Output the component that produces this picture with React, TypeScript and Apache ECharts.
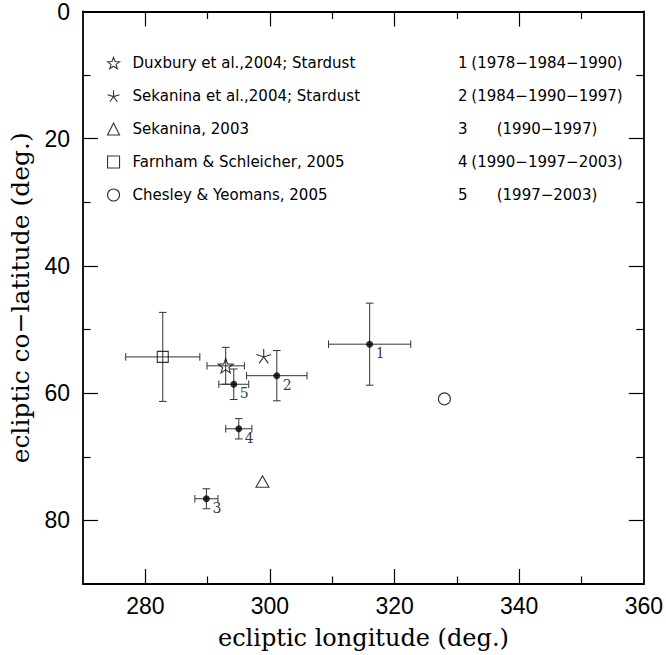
import React, { useEffect, useRef } from 'react';
import * as echarts from 'echarts';

// ---- axis ranges & ticks ----
const lonRange = [270, 360];
const latRange = [0, 90];
const lonLabels = [280, 300, 320, 340, 360];
const lonMajorTicks = [280, 300, 320, 340];
const lonMinorTicks = [290, 310, 330, 350];
const latLabels = [0, 20, 40, 60, 80];
const latMajorTicks = [20, 40, 60, 80];
const latMinorTicks = [10, 30, 50, 70];

// ---- numbered pole solutions ----
const solutionIds = ['1', '2', '3', '4', '5'];
const solutionSpans = ['(1978\u22121984\u22121990)', '(1984\u22121990\u22121997)', '(1990\u22121997)', '(1990\u22121997\u22122003)', '(1997\u22122003)'];
const solutionLon = [316.0, 301.1, 289.8, 295.0, 294.2];
const solutionLat = [52.3, 57.25, 76.6, 65.6, 58.6];
const solutionLonErr = [6.6, 4.85, 1.85, 2.1, 2.4];
const solutionLatErr = [6.45, 3.95, 1.57, 1.6, 2.4];

// ---- published determinations ----
const refNames = ['Duxbury et al.,2004; Stardust', 'Sekanina et al.,2004; Stardust', 'Sekanina, 2003', 'Farnham & Schleicher, 2005', 'Chesley & Yeomans, 2005'];
const refLon = [292.9, 299.0, 298.8, 282.8, 328.0];
const refLat = [55.7, 54.2, 73.9, 54.3, 60.9];
const refLonErr = [3.0, 0, 0, 5.95, 0];
const refLatErr = [2.9, 0, 0, 7.0, 0];

const STAR = 'path://M0,-10 L2.47,-3.4 L9.51,-3.09 L4,1.3 L5.88,8.09 L0,4.2 L-5.88,8.09 L-4,1.3 L-9.51,-3.09 L-2.47,-3.4 Z';
const ASTER = 'path://M0,-10 L0,0 M-9.51,-3.09 L0,0 L9.51,-3.09 M-5.88,8.09 L0,0 L5.88,8.09';
const refSymbols = [STAR, ASTER, 'triangle', 'rect', 'circle'];
const refSizes: any[] = [[15, 14.3], [15, 14.3], [13, 11.5], [11, 11], [12, 12]];

const TICK_FONT = 'Liberation Sans';
const TITLE_FONT = 'DejaVu Serif';
const LEGEND_FONT = 'DejaVu Sans';

function makeAxis(kind: 'x' | 'y', position: string, ticks: number[], len: number, main: boolean, extra: any = {}) {
  const range = kind === 'x' ? lonRange : latRange;
  return {
    type: 'value',
    position,
    min: range[0],
    max: range[1],
    inverse: kind === 'y',
    splitLine: { show: false },
    axisLine: { show: main, onZero: false, lineStyle: { color: '#000', width: 1.8 } },
    axisTick: { show: true, inside: true, length: len, customValues: ticks, lineStyle: { color: '#000', width: 1.2 } },
    axisLabel: { show: false },
    ...extra,
  };
}

export default function App() {
  const ref = useRef<HTMLDivElement>(null);
  useEffect(() => {
    const chart = echarts.init(ref.current!, null, { renderer: 'svg' });

    const errData: number[][] = [];
    solutionLon.forEach((x, i) => errData.push([x, solutionLat[i], solutionLonErr[i], solutionLatErr[i]]));
    refLon.forEach((x, i) => {
      if (refLonErr[i] > 0 || refLatErr[i] > 0) errData.push([x, refLat[i], refLonErr[i], refLatErr[i]]);
    });

    const tickLabel = { show: true, color: '#000', fontFamily: TICK_FONT, fontSize: 23 };
    const nameStyle = { color: '#000', fontFamily: TITLE_FONT, fontSize: 24 };

    const refSeries = refNames.map((name, i) => ({
      type: 'scatter',
      name,
      symbol: refSymbols[i],
      symbolSize: refSizes[i],
      data: [[refLon[i], refLat[i]]],
      itemStyle: { color: 'rgba(255,255,255,0)', borderColor: '#000', borderWidth: 1.1 },
      z: 5,
      silent: true,
    }));

    const rowTop = 63;
    const rowPitch = 33;

    const option: any = {
      animation: false,
      backgroundColor: '#fff',
      grid: { left: 82, top: 11, right: 22, bottom: 71 },
      xAxis: [
        makeAxis('x', 'bottom', lonMajorTicks, 15, true, {
          axisLabel: { ...tickLabel, customValues: lonLabels, margin: 10 },
          name: 'ecliptic longitude (deg.)',
          nameLocation: 'middle',
          nameGap: 42,
          nameTextStyle: nameStyle,
        }),
        makeAxis('x', 'bottom', lonMinorTicks, 7.5, false),
        makeAxis('x', 'top', lonMajorTicks, 15, true),
        makeAxis('x', 'top', lonMinorTicks, 7.5, false),
      ],
      yAxis: [
        makeAxis('y', 'left', latMajorTicks, 15, true, {
          axisLabel: { ...tickLabel, customValues: latLabels, margin: 13 },
          name: 'ecliptic co\u2212latitude (deg.)',
          nameLocation: 'middle',
          nameGap: 50,
          nameTextStyle: { ...nameStyle, fontSize: 25 },
        }),
        makeAxis('y', 'left', latMinorTicks, 7.5, false),
        makeAxis('y', 'right', latMajorTicks, 15, true),
        makeAxis('y', 'right', latMinorTicks, 7.5, false),
      ],
      legend: {
        orient: 'vertical',
        left: 107,
        top: rowTop - 10.5,
        padding: 0,
        itemWidth: 12,
        itemHeight: 12,
        itemGap: rowPitch - 21,
        selectedMode: false,
        textStyle: { color: '#000', fontFamily: LEGEND_FONT, fontSize: 15, lineHeight: 21, padding: [0, 0, 0, 8] },
        data: refNames.map((name, i) => ({
          name,
          icon: refSymbols[i],
          itemStyle: { color: 'rgba(255,255,255,0)', borderColor: '#000', borderWidth: 1.1 },
        })),
      },
      graphic: solutionIds.flatMap((id, i) => [
        {
          type: 'text',
          x: 458,
          y: rowTop + i * rowPitch,
          silent: true,
          style: { text: id, fill: '#000', fontFamily: LEGEND_FONT, fontSize: 15, textAlign: 'left', textVerticalAlign: 'middle' },
        },
        {
          type: 'text',
          x: 547,
          y: rowTop + i * rowPitch,
          silent: true,
          style: { text: solutionSpans[i], fill: '#000', fontFamily: LEGEND_FONT, fontSize: 15, textAlign: 'center', textVerticalAlign: 'middle' },
        },
      ]),
      series: [
        {
          type: 'custom',
          name: 'errors',
          silent: true,
          z: 2,
          data: errData,
          renderItem: (params: any, api: any) => {
            const x = api.value(0), y = api.value(1), ex = api.value(2), ey = api.value(3);
            const style = { stroke: '#333', lineWidth: 1 };
            const c = 3.8;
            const children: any[] = [];
            if (ex > 0) {
              const l = api.coord([x - ex, y]);
              const r = api.coord([x + ex, y]);
              children.push({ type: 'line', shape: { x1: l[0], y1: l[1], x2: r[0], y2: r[1] }, style });
              children.push({ type: 'line', shape: { x1: l[0], y1: l[1] - c, x2: l[0], y2: l[1] + c }, style });
              children.push({ type: 'line', shape: { x1: r[0], y1: r[1] - c, x2: r[0], y2: r[1] + c }, style });
            }
            if (ey > 0) {
              const t = api.coord([x, y - ey]);
              const b = api.coord([x, y + ey]);
              children.push({ type: 'line', shape: { x1: t[0], y1: t[1], x2: b[0], y2: b[1] }, style });
              children.push({ type: 'line', shape: { x1: t[0] - c, y1: t[1], x2: t[0] + c, y2: t[1] }, style });
              children.push({ type: 'line', shape: { x1: b[0] - c, y1: b[1], x2: b[0] + c, y2: b[1] }, style });
            }
            return { type: 'group', children };
          },
        },
        {
          type: 'scatter',
          name: 'solutions',
          symbol: 'circle',
          symbolSize: 7,
          z: 6,
          silent: true,
          itemStyle: { color: '#000' },
          data: solutionLon.map((x, i) => [x, solutionLat[i]]),
          label: {
            show: true,
            position: 'inside',
            offset: [10.5, 9],
            formatter: (p: any) => solutionIds[p.dataIndex],
            color: '#000',
            fontFamily: TITLE_FONT,
            fontSize: 14,
          },
        },
        ...refSeries,
      ],
    };

    chart.setOption(option);
    return () => chart.dispose();
  }, []);
  return <div ref={ref} style={{ position: 'absolute', left: 0, top: 0, width: 666, height: 655 }} />;
}
